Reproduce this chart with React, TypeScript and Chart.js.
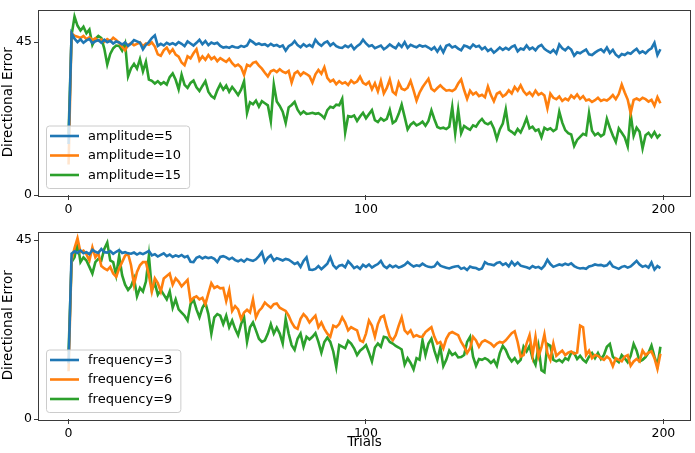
import { useEffect, useRef } from 'react';
import { Chart, registerables } from 'chart.js';

Chart.register(...registerables);

Chart.defaults.font.family = '"DejaVu Sans", sans-serif';
Chart.defaults.font.size = 12.5;
Chart.defaults.color = '#000';

const trials = Array.from({ length: 200 }, (_, i) => i);
const xTicks = [0, 100, 200];
const yTicks = [0, 45];

const amplitudeLabels = ['amplitude=5', 'amplitude=10', 'amplitude=15'];
const frequencyLabels = ['frequency=3', 'frequency=6', 'frequency=9'];

// top panel
const amplitude5 = [
  15.0,
  47.6, 46.0, 45.0, 45.8, 44.8, 45.5, 45.9, 44.7, 45.2, 45.6,
  44.8, 45.7, 45.0, 45.4, 44.6, 45.2, 44.9, 44.3, 44.9, 43.9,
  44.6, 45.6, 45.2, 44.8, 42.9, 44.2, 45.0, 46.2, 47.0, 43.9,
  44.5, 44.0, 44.8, 44.3, 44.7, 44.2, 45.0, 44.5, 43.8, 45.2,
  44.6, 44.0, 44.8, 45.7, 44.4, 45.3, 44.1, 44.9, 44.5, 44.8,
  43.9, 43.4, 43.6, 43.3, 43.8, 43.5, 43.4, 43.9, 43.6, 44.0,
  45.6, 45.0, 44.3, 44.6, 44.2, 44.4, 43.8, 44.5, 43.9, 44.2,
  43.6, 44.0, 42.5, 43.8, 44.3, 45.3, 44.1, 43.5, 44.4, 43.7,
  44.2, 43.6, 45.7, 44.6, 43.9, 44.8, 45.2, 44.0, 44.7, 43.8,
  43.4, 43.3, 44.0, 43.5, 44.2, 42.9, 43.8, 44.4, 45.7, 44.6,
  43.8, 44.1, 43.2, 43.6, 44.0, 42.9, 43.5, 44.3, 43.7, 43.2,
  44.5, 43.6, 45.0, 43.3, 44.2, 43.8, 43.5, 44.1, 43.7, 43.9,
  43.4, 42.8, 43.5, 42.2, 43.6, 42.0, 43.9, 44.3, 43.4, 43.8,
  43.1, 42.6, 44.0, 43.7, 43.2, 44.3, 43.6, 43.9, 42.9, 43.5,
  42.4, 43.0, 41.9, 42.6, 43.4, 42.7, 43.3, 42.8, 43.6, 44.0,
  42.3, 43.1, 42.8, 44.0, 42.9, 43.4, 42.6, 43.7, 44.2, 43.0,
  42.4, 41.9, 42.7, 41.7, 44.3, 43.2, 42.6, 43.5, 42.8, 41.0,
  42.0, 41.7, 42.3, 42.8, 41.4, 41.2, 41.9, 42.5, 42.9, 42.1,
  43.4, 41.8, 42.7, 41.3, 40.6, 41.5, 41.2, 41.9, 41.6, 42.4,
  43.0, 41.8, 42.3, 41.7, 42.6, 43.2, 44.8, 41.2, 42.9,
];

const amplitude10 = [
  9.0,
  47.6, 46.9, 46.6, 46.2, 46.8, 45.9, 46.4, 45.6, 46.1, 45.4,
  45.8, 45.1, 45.9, 45.3, 46.3, 45.6, 44.8, 43.6, 42.6, 44.2,
  44.7, 44.1, 44.5, 44.9, 43.8, 44.6, 44.2, 44.9, 43.7, 41.4,
  41.0, 42.6, 43.4, 41.8, 42.9, 41.3, 40.7, 39.0, 38.2, 40.8,
  40.2, 41.7, 42.9, 39.6, 40.8, 39.8, 41.2, 40.0, 40.6, 39.4,
  40.3, 39.7, 39.2, 40.1, 38.8, 37.9, 38.4, 37.6, 35.4, 38.3,
  37.9, 38.9, 39.2, 38.1, 37.2, 36.0, 34.9, 36.4, 36.8, 36.2,
  37.0, 36.3, 35.9, 36.5, 33.1, 35.8, 36.4, 35.2, 36.1, 35.6,
  35.0, 33.1, 35.5, 36.8, 35.7, 37.6, 34.5, 33.4, 33.9, 32.6,
  33.5, 32.8, 33.2, 32.4, 33.7, 32.9, 33.4, 34.8, 33.0, 32.5,
  33.3, 31.1, 32.9, 30.5, 33.6, 29.9, 31.5, 34.0, 30.4, 29.6,
  33.1, 31.3, 30.9, 31.6, 33.6, 30.8, 27.8, 30.1, 31.7, 33.0,
  34.2, 31.3, 30.6, 31.5, 32.3, 31.4, 30.7, 30.9, 30.6, 31.2,
  32.8, 34.0, 30.9, 28.3, 30.7, 29.6, 30.2, 29.1, 29.5, 28.8,
  31.9, 29.4, 27.6, 29.8, 30.3, 29.0, 29.6, 30.8, 29.9, 31.8,
  30.7, 32.3, 30.5, 29.5, 30.2, 29.2, 30.7, 29.5, 30.0, 29.3,
  25.5, 29.8, 28.6, 28.2, 29.0, 27.7, 28.4, 27.9, 29.3, 28.5,
  29.6, 28.3, 29.1, 27.8, 28.1, 27.4, 27.9, 28.6, 27.7, 28.1,
  27.8, 28.5, 29.4, 28.2, 29.7, 32.5, 30.2, 28.1, 24.1, 28.0,
  28.4, 27.9, 28.6, 28.2, 27.5, 28.0, 26.3, 28.8, 27.0,
];

const amplitude15 = [
  18.0,
  47.0, 52.5, 49.8, 48.4, 49.5, 47.6, 48.7, 44.2, 46.0, 46.8,
  46.2, 43.1, 38.4, 41.5, 43.2, 44.0, 43.9, 42.5, 44.6, 34.9,
  37.3, 38.6, 37.2, 40.0, 36.4, 39.2, 34.0, 33.6, 32.8, 33.5,
  32.6, 33.2, 32.5, 34.7, 35.8, 33.9, 31.1, 35.4, 32.4, 31.5,
  33.0, 33.7, 31.7, 30.6, 32.1, 33.5, 30.4, 29.1, 28.5, 30.8,
  32.6, 31.0, 32.2, 30.4, 31.8, 30.7, 29.4, 31.0, 33.5, 24.1,
  27.3, 26.7, 27.8, 26.0, 27.6, 27.0, 26.4, 21.7, 32.5, 27.5,
  26.2, 24.5, 21.2, 25.8, 26.5, 27.4, 25.1, 23.8, 24.6, 23.9,
  24.0, 24.2, 23.9, 24.1, 23.5, 22.6, 25.0, 26.0, 25.7, 26.6,
  26.4, 28.3, 18.4, 23.2, 23.0, 23.4, 21.8, 23.1, 24.2, 22.6,
  23.8, 25.0, 22.0, 21.5, 22.6, 21.9, 22.4, 25.0, 21.2, 21.8,
  23.9, 26.6, 23.0, 19.3, 20.7, 21.4, 20.5, 20.9, 21.6, 20.4,
  21.8, 24.9, 22.3, 20.0, 19.6, 19.8, 19.4, 20.1, 25.9, 18.1,
  25.1, 18.2, 20.3, 19.7, 19.2, 20.5, 20.1, 21.5, 22.4, 21.2,
  20.8, 21.4, 19.6, 16.5, 19.3, 21.0, 25.2, 19.2, 18.6, 17.9,
  19.4, 18.4, 20.3, 22.6, 19.6, 20.1, 18.9, 19.3, 17.0, 19.8,
  19.2, 19.6, 18.8, 19.4, 24.5, 21.3, 19.1, 18.2, 17.8, 14.4,
  16.2, 17.1, 18.0, 17.6, 24.1, 18.9, 17.6, 18.2, 17.3, 17.9,
  22.4, 19.8, 17.5, 15.6, 19.6, 18.3, 17.0, 14.3, 23.8, 17.4,
  19.8, 18.6, 13.7, 17.6, 18.3, 17.1, 18.5, 16.9, 17.9,
];

// bottom panel
const frequency3 = [
  14.0,
  41.6, 42.2, 41.8, 42.4, 41.7, 42.0, 41.5, 42.6, 42.1, 41.8,
  42.8, 42.0, 41.9, 42.3, 41.6, 42.1, 42.5, 41.8, 42.0, 41.7,
  41.6, 41.9, 41.4, 41.8, 41.5, 41.9, 42.3, 41.2, 41.5, 40.9,
  41.3, 41.7, 41.0, 41.4, 40.8, 41.2, 40.9, 41.3, 40.7, 41.0,
  39.6, 39.5, 40.6, 40.9, 40.4, 40.8, 40.5, 40.7, 40.3, 39.5,
  40.8, 41.0, 40.7, 40.2, 40.6, 40.0, 39.7, 40.1, 39.6, 40.3,
  40.0, 39.8, 40.2, 41.0, 42.0, 39.5, 40.6, 41.2, 39.9, 40.5,
  40.2, 39.9, 40.3, 40.1, 39.6, 39.0, 39.4, 38.3, 39.8, 40.7,
  37.6, 37.5, 37.8, 38.5, 37.7, 38.4, 39.1, 40.7, 38.7, 37.9,
  38.6, 38.8, 38.2, 39.7, 38.9, 38.0, 38.4, 37.8, 38.8, 38.3,
  38.9, 38.1, 38.6, 39.0, 39.8, 38.5, 38.0, 38.7, 38.2, 38.6,
  38.1, 38.4, 38.8, 39.5, 38.9, 38.4, 38.7, 38.5, 39.1, 38.6,
  38.3, 38.2, 38.4, 39.4, 38.6, 38.3, 38.1, 37.9, 38.2, 38.4,
  38.5, 37.8, 38.1, 37.5, 38.4, 38.1, 38.0, 37.6, 37.9, 39.5,
  39.0, 38.9, 38.7, 39.3, 39.5, 38.8, 39.2, 38.4, 39.6, 38.7,
  39.4, 38.6, 38.4, 38.2, 37.9, 38.5, 38.1, 38.3, 37.8, 38.6,
  40.1, 39.0, 38.3, 38.6, 38.9, 38.7, 39.1, 38.8, 39.2, 38.5,
  38.1, 37.9, 38.0, 37.8, 38.4, 38.6, 38.9, 38.7, 38.8, 38.5,
  38.7, 39.5, 38.4, 38.1, 37.8, 38.3, 38.5, 38.1, 38.4, 39.1,
  39.8, 38.9, 38.3, 38.6, 38.1, 39.4, 37.6, 38.5, 38.0,
];

const frequency6 = [
  12.0,
  40.0, 43.0, 45.5, 42.0, 42.4, 41.5, 39.9, 43.2, 40.7, 41.8,
  38.5, 37.9, 37.5, 38.3, 36.6, 35.8, 37.9, 39.5, 41.1, 41.6,
  38.7, 33.8, 37.0, 38.7, 39.5, 39.5, 36.2, 32.1, 35.4, 34.2,
  32.1, 35.4, 36.0, 36.6, 33.8, 35.4, 34.6, 33.4, 34.2, 35.0,
  29.7, 30.5, 30.9, 30.1, 30.5, 28.9, 31.6, 34.2, 33.0, 33.4,
  32.9, 33.0, 29.7, 32.5, 27.2, 28.4, 27.6, 25.2, 26.8, 27.5,
  26.8, 30.1, 25.6, 27.2, 28.0, 29.3, 28.6, 28.0, 28.9, 29.1,
  28.0, 27.6, 27.2, 26.0, 24.3, 23.1, 22.7, 25.2, 26.4, 25.6,
  24.3, 25.2, 26.0, 23.1, 24.3, 22.7, 21.5, 20.7, 23.5, 23.1,
  23.9, 25.6, 24.3, 22.3, 23.1, 22.7, 22.3, 19.8, 19.4, 21.5,
  24.8, 23.5, 20.7, 23.9, 25.6, 26.0, 23.1, 20.7, 19.8, 21.1,
  23.5, 25.6, 22.3, 21.5, 22.3, 20.7, 21.1, 20.7, 20.7, 21.9,
  22.5, 23.1, 20.7, 19.0, 19.4, 17.8, 20.2, 21.5, 21.9, 21.5,
  21.1, 19.4, 18.2, 16.6, 17.8, 20.7, 19.8, 18.2, 19.4, 19.8,
  19.4, 19.0, 18.2, 19.0, 19.4, 19.2, 19.8, 20.7, 21.6, 22.1,
  19.4, 15.7, 16.1, 19.0, 21.1, 16.1, 20.7, 15.7, 18.0, 21.3,
  16.6, 14.9, 19.0, 15.9, 16.6, 17.2, 16.1, 16.7, 17.0, 16.4,
  16.7, 23.5, 23.1, 16.1, 17.2, 15.3, 16.1, 15.9, 15.3, 14.9,
  15.7, 15.1, 13.3, 15.3, 14.9, 14.5, 15.7, 16.1, 13.4, 14.5,
  15.1, 14.5, 17.2, 16.1, 16.7, 17.0, 15.3, 12.6, 16.4,
];

const frequency9 = [
  17.0,
  39.5, 40.7, 44.4, 39.5, 40.7, 39.9, 38.3, 36.6, 39.5, 40.3,
  39.9, 42.8, 44.4, 39.9, 39.5, 36.2, 41.1, 36.2, 33.8, 32.5,
  33.4, 35.4, 30.9, 33.0, 32.1, 34.6, 41.1, 32.5, 34.2, 31.3,
  32.5, 31.3, 30.1, 32.1, 28.0, 30.1, 27.6, 26.8, 26.0, 24.8,
  28.9, 30.1, 27.6, 25.6, 28.0, 29.3, 26.4, 21.5, 25.6, 26.4,
  26.0, 23.9, 26.0, 23.1, 24.8, 22.7, 21.1, 23.9, 25.6, 19.4,
  23.1, 24.3, 22.3, 20.2, 19.4, 19.8, 21.5, 23.9, 21.5, 23.0,
  21.5, 19.0, 25.2, 21.5, 18.6, 17.4, 20.2, 21.5, 18.2, 20.7,
  20.0, 20.7, 21.6, 19.4, 16.7, 19.4, 20.5, 19.4, 17.0, 13.1,
  18.6, 18.2, 17.8, 19.7, 19.0, 17.8, 16.1, 17.2, 17.8, 18.6,
  16.7, 14.5, 18.0, 19.0, 18.2, 20.7, 20.5, 19.4, 19.0, 18.4,
  18.0, 17.5, 13.7, 15.3, 14.1, 12.5, 15.3, 14.9, 19.8, 16.1,
  19.0, 20.2, 17.2, 14.9, 18.0, 13.3, 14.9, 17.2, 16.1, 16.6,
  15.5, 15.6, 16.1, 19.4, 20.7, 15.7, 13.4, 15.1, 14.9, 15.3,
  14.9, 14.1, 14.8, 13.4, 16.6, 18.4, 17.4, 15.6, 14.5, 15.3,
  14.1, 14.9, 18.2, 17.0, 18.4, 15.3, 13.7, 18.2, 12.3, 11.8,
  18.9, 18.4, 14.9, 14.5, 14.9, 14.3, 15.3, 14.9, 16.7, 16.6,
  15.1, 15.9, 14.9, 14.3, 15.7, 16.6, 15.3, 16.6, 15.1, 16.1,
  18.2, 18.9, 15.7, 14.9, 14.3, 16.1, 15.3, 14.3, 15.9, 18.9,
  17.2, 14.5, 14.9, 15.6, 16.7, 18.5, 15.7, 13.4, 18.2,
];

const COLORS = ['#1f77b4', '#ff7f0e', '#2ca02c'];

const framePlugin = {
  id: 'frame',
  afterDatasetsDraw(chart: any) {
    const { ctx, chartArea: a } = chart;
    ctx.save();
    ctx.strokeStyle = '#3a3a3a';
    ctx.lineWidth = 1;
    ctx.strokeRect(Math.round(a.left) - 0.5, Math.round(a.top) + 0.5, Math.round(a.right - a.left) + 1, Math.round(a.bottom - a.top));
    ctx.restore();
  },
};

// legend sitting inside the plot, lower left, like matplotlib's
const insideLegend = {
  id: 'insideLegend',
  afterDraw(chart: any) {
    const { ctx, chartArea } = chart;
    const sets = chart.data.datasets;
    ctx.save();
    ctx.font = '13px "DejaVu Sans"';
    const textW = Math.max(...sets.map((d: any) => ctx.measureText(d.label).width));
    const w = 42 + textW + 8;
    const h = 62.5;
    const x = chartArea.left + 7;
    const y = chartArea.bottom - 7 - h;
    ctx.beginPath();
    ctx.roundRect(x + 0.5, y + 0.5, w, h, 3);
    ctx.fillStyle = 'rgba(255,255,255,0.8)';
    ctx.fill();
    ctx.strokeStyle = '#cccccc';
    ctx.lineWidth = 1;
    ctx.stroke();
    sets.forEach((d: any, i: number) => {
      const cy = y + 10.5 + i * 19.5;
      ctx.strokeStyle = d.borderColor;
      ctx.lineWidth = 2.6;
      ctx.beginPath();
      ctx.moveTo(x + 4, cy);
      ctx.lineTo(x + 33, cy);
      ctx.stroke();
      ctx.fillStyle = '#000';
      ctx.textBaseline = 'middle';
      ctx.fillText(d.label, x + 42, cy + 0.5);
    });
    ctx.restore();
  },
};

interface PanelProps {
  series: number[][];
  labels: string[];
  yMax: number;
  height: number;
  top: number;
  padTop: number;
  xHeight: number;
  xTitle?: string;
}

function Panel({ series, labels, yMax, height, top, padTop, xHeight, xTitle }: PanelProps) {
  const canvasRef = useRef<HTMLCanvasElement>(null);

  useEffect(() => {
    if (!canvasRef.current) return;
    const chart = new Chart(canvasRef.current, {
      type: 'line',
      data: {
        datasets: labels.map((label, i) => ({
          label,
          data: trials.map((t, j) => ({ x: t, y: series[i][j] })),
          borderColor: COLORS[i],
          backgroundColor: COLORS[i],
          borderWidth: 2.6,
          pointRadius: 0,
          tension: 0,
          fill: false,
        })),
      },
      options: {
        animation: false,
        responsive: false,
        layout: { padding: { top: padTop, right: 5, left: 0, bottom: 0 } },
        plugins: { legend: { display: false }, tooltip: { enabled: false } },
        scales: {
          x: {
            type: 'linear',
            min: -9.95,
            max: 208.95,
            afterBuildTicks: (s: any) => { s.ticks = xTicks.map(v => ({ value: v })); },
            afterFit: (s: any) => { s.height = xHeight; },
            ticks: { color: '#000', padding: 2, maxRotation: 0, autoSkip: false, callback: (v: any) => String(v) },
            grid: { drawOnChartArea: false, tickLength: 5, color: '#3a3a3a' },
            border: { display: false },
            title: xTitle
              ? { display: true, text: xTitle, color: '#000', font: { size: 13.5 }, padding: { top: 0, bottom: 2 } }
              : { display: false },
          },
          y: {
            min: 0,
            max: yMax,
            afterBuildTicks: (s: any) => { s.ticks = yTicks.map(v => ({ value: v })); },
            afterFit: (s: any) => { s.width = 39; },
            ticks: { color: '#000', padding: 2, autoSkip: false, callback: (v: any) => String(v) },
            grid: { drawOnChartArea: false, tickLength: 5, color: '#3a3a3a' },
            border: { display: false },
            title: { display: true, text: 'Directional Error', color: '#000', font: { size: 13.5 }, padding: { top: 0, bottom: 0 } },
          },
        },
      },
      plugins: [framePlugin, insideLegend],
    });
    return () => chart.destroy();
  }, [series, labels, yMax, padTop, xHeight, xTitle]);

  return (
    <canvas
      ref={canvasRef}
      width={695}
      height={height}
      style={{ position: 'absolute', left: 0, top, width: 695, height, display: 'block' }}
    />
  );
}

export default function App() {
  return (
    <div style={{ position: 'absolute', left: 0, top: 0, width: 695, height: 453, background: '#fff' }}>
      <Panel
        series={[amplitude5, amplitude10, amplitude15]}
        labels={amplitudeLabels}
        yMax={54.6}
        height={222}
        top={0}
        padTop={2}
        xHeight={27}
      />
      <Panel
        series={[frequency3, frequency6, frequency9]}
        labels={frequencyLabels}
        yMax={47.2}
        height={231}
        top={222}
        padTop={5}
        xHeight={34}
        xTitle="Trials"
      />
    </div>
  );
}
